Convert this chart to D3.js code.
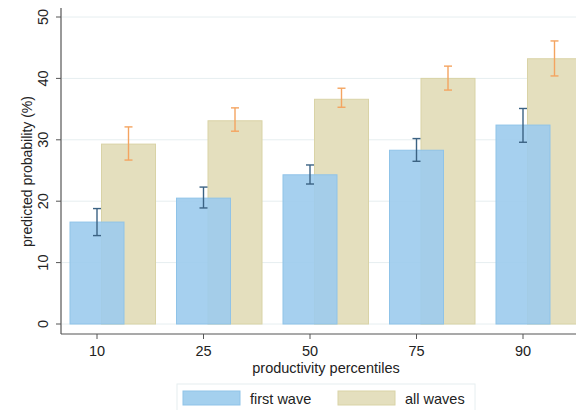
<html>
<head>
<script src="https://d3js.org/d3.v7.min.js"></script>
<style>
  body { margin: 0; background: #fff; }
  svg { display: block; font-family: "Liberation Sans", Arial, sans-serif; }
</style>
</head>
<body>
<script>
const percentiles = ["10", "25", "50", "75", "90"];
const firstWave = [16.6, 20.5, 24.3, 28.3, 32.4];
const firstLo   = [14.4, 18.9, 22.8, 26.5, 29.6];
const firstHi   = [18.8, 22.3, 25.9, 30.2, 35.1];
const allWaves  = [29.3, 33.1, 36.6, 40.0, 43.2];
const allLo     = [26.7, 31.4, 35.3, 38.1, 40.4];
const allHi     = [32.1, 35.2, 38.4, 42.0, 46.1];
const yTicks = [0, 10, 20, 30, 40, 50];

const w = 576, h = 410;
const padLeft = 61, padTop = 8, axisY = 334;

const svg = d3.select("body").append("svg").attr("width", w).attr("height", h);

const y = d3.scaleLinear().domain([0, 50]).range([324, 17]);
const x = d3.scalePoint().domain(percentiles).range([97, 523]);
const barW = 54, shift = 31.5;

// gridlines
svg.append("g").selectAll("line").data(yTicks).enter().append("line")
  .attr("x1", padLeft + 1).attr("x2", w)
  .attr("y1", d => y(d)).attr("y2", d => y(d))
  .attr("stroke", "#e6eef0").attr("stroke-width", 1);

// all waves bars (behind)
svg.append("g").selectAll("rect").data(allWaves).enter().append("rect")
  .attr("x", (d, i) => x(percentiles[i]) + shift - barW / 2)
  .attr("y", d => y(d))
  .attr("width", barW)
  .attr("height", d => y(0) - y(d))
  .attr("fill", "#e4dfbe")
  .attr("stroke", "#d9d3a6").attr("stroke-width", 1);

// first wave bars
svg.append("g").selectAll("rect").data(firstWave).enter().append("rect")
  .attr("x", (d, i) => x(percentiles[i]) - barW / 2)
  .attr("y", d => y(d))
  .attr("width", barW)
  .attr("height", d => y(0) - y(d))
  .attr("fill", "#9ccbed").attr("fill-opacity", 0.9)
  .attr("stroke", "#8fc3e8").attr("stroke-width", 1);

function errorBars(lo, hi, off, color) {
  const g = svg.append("g").attr("stroke", color).attr("stroke-width", 1.4);
  percentiles.forEach((p, i) => {
    const cx = x(p) + off;
    g.append("line").attr("x1", cx).attr("x2", cx).attr("y1", y(lo[i])).attr("y2", y(hi[i]));
    g.append("line").attr("x1", cx - 4).attr("x2", cx + 4).attr("y1", y(lo[i])).attr("y2", y(lo[i]));
    g.append("line").attr("x1", cx - 4).attr("x2", cx + 4).attr("y1", y(hi[i])).attr("y2", y(hi[i]));
  });
}
errorBars(allLo, allHi, shift, "#f4a460");
errorBars(firstLo, firstHi, 0, "#3b6283");

// y axis
const yAxis = svg.append("g").attr("transform", `translate(${padLeft},0)`);
yAxis.append("line").attr("x1", 0).attr("x2", 0).attr("y1", padTop).attr("y2", axisY)
  .attr("stroke", "#555").attr("stroke-width", 1.2);
yAxis.selectAll(".tk").data(yTicks).enter().append("line")
  .attr("x1", -5).attr("x2", 0).attr("y1", d => y(d)).attr("y2", d => y(d))
  .attr("stroke", "#555");
yAxis.selectAll("text").data(yTicks).enter().append("text")
  .attr("transform", d => `translate(-13,${y(d)}) rotate(-90)`)
  .attr("text-anchor", "middle")
  .attr("font-size", 14.5).attr("fill", "#222")
  .text(d => d);
svg.append("text")
  .attr("transform", `translate(32,${(y(0) + y(50)) / 2 + 1}) rotate(-90)`)
  .attr("text-anchor", "middle").attr("font-size", 14).attr("fill", "#222")
  .text("predicted probability (%)");

// x axis
const xAxis = svg.append("g");
xAxis.append("line").attr("x1", padLeft).attr("x2", w).attr("y1", axisY).attr("y2", axisY)
  .attr("stroke", "#555").attr("stroke-width", 1.2);
xAxis.selectAll(".tk").data(percentiles).enter().append("line")
  .attr("x1", d => x(d)).attr("x2", d => x(d)).attr("y1", axisY).attr("y2", axisY + 5)
  .attr("stroke", "#555");
xAxis.selectAll("text").data(percentiles).enter().append("text")
  .attr("x", d => x(d)).attr("y", 356)
  .attr("text-anchor", "middle").attr("font-size", 14.5).attr("fill", "#222")
  .text(d => d);
svg.append("text").attr("x", 326).attr("y", 373)
  .attr("text-anchor", "middle").attr("font-size", 14.5).attr("fill", "#222")
  .text("productivity percentiles");

// legend
const legend = svg.append("g");
legend.append("rect").attr("x", 177).attr("y", 384).attr("width", 298).attr("height", 30)
  .attr("fill", "#fff").attr("stroke", "#e6eef0");
const items = [["first wave", "#a4d0ee", "#8fc3e8", 183], ["all waves", "#e4dfbe", "#d9d3a6", 338]];
items.forEach(([label, fill, stroke, lx]) => {
  legend.append("rect").attr("x", lx).attr("y", 391).attr("width", 57).attr("height", 14)
    .attr("fill", fill).attr("stroke", stroke);
  legend.append("text").attr("x", lx + 67).attr("y", 404)
    .attr("font-size", 14.5).attr("fill", "#222").text(label);
});
</script>
</body>
</html>
